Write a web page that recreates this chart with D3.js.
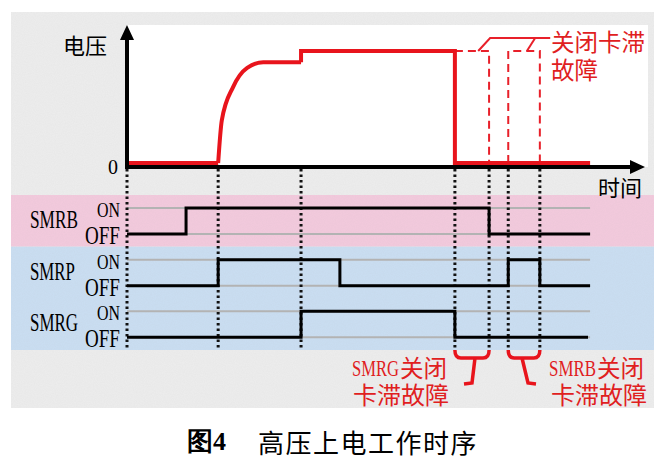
<!DOCTYPE html>
<html><head><meta charset="utf-8">
<script src="https://cdn.jsdelivr.net/npm/d3@7"></script>
<style>body{margin:0;background:#fff}</style></head>
<body><svg id="c" width="666" height="464"></svg>
<script>
// ---- data (time in arbitrary units 0..100, voltage normalised 0..1) ----
const timeDomain = [0, 100];
const voltageLow = [[0, 0], [17.6, 0]];
const voltageRise = [[17.6, 0], [18.3, 0.38], [20.5, 0.68], [23.2, 0.85], [26.3, 0.9], [33.6, 0.9]];
const voltageHold = [[33.6, 0.9], [33.6, 1], [63.3, 1], [63.3, 0], [89.4, 0]];
const faultRelayB = [[63.3, 1], [69.9, 1], [69.9, 0]];
const faultRelayP = [[73.6, 0], [73.6, 1], [79.7, 1], [79.7, 0]];
const eventTimes = [0, 17.6, 33.6, 63.3, 69.9, 73.6, 79.7];
const signalNames = ["SMRB", "SMRP", "SMRG"];
const smrbStates = [[0, 0], [11.4, 1], [69.9, 0], [89.4, 0]];
const smrpStates = [[0, 0], [17.6, 1], [41.1, 0], [73.6, 1], [79.7, 0], [89.4, 0]];
const smrgStates = [[0, 0], [33.6, 1], [63.3, 0], [89.0, 0]];
const stateLabels = ["ON", "OFF"];
const endTime = 89.4;

const svg = d3.select("#c");
const x = d3.scaleLinear().domain(timeDomain).range([127, 645]);
const v = d3.scaleLinear().domain([0, 1]).range([163, 51]);
const row = d3.scaleBand().domain(signalNames).range([195, 350]);
const stateY = (name, s) => row(name) + (s ? 13 : 39);

// texture filter
const defs = svg.append("defs");
const f = defs.append("filter").attr("id", "noise").attr("x", 0).attr("y", 0).attr("width", 1).attr("height", 1);
f.append("feTurbulence").attr("type", "fractalNoise").attr("baseFrequency", 0.9).attr("numOctaves", 2).attr("seed", 3);
f.append("feColorMatrix").attr("type", "matrix")
  .attr("values", "0 0 0 0 0.5  0 0 0 0 0.5  0 0 0 0 0.5  0 0 0 0.3 -0.08");

// panel
svg.append("rect").attr("x", 11).attr("y", 12).attr("width", 643).attr("height", 396).attr("fill", "#ececec");
svg.append("rect").attr("x", 11).attr("y", row("SMRB")).attr("width", 643).attr("height", row.bandwidth()).attr("fill", "#f2c9dc");
svg.append("rect").attr("x", 11).attr("y", row("SMRP")).attr("width", 643).attr("height", row.bandwidth() * 2).attr("fill", "#c9ddf1");
svg.append("rect").attr("x", 11).attr("y", 12).attr("width", 643).attr("height", 396).attr("filter", "url(#noise)").attr("opacity", 0.45);
svg.append("rect").attr("x", x(0)).attr("y", 25).attr("width", x(100) - x(0) + 3).attr("height", 142).attr("fill", "#fff");

// reference gray lines
signalNames.forEach(n => {
  [1, 0].forEach(s => {
    svg.append("line").attr("x1", x(0)).attr("x2", x(endTime)).attr("y1", stateY(n, s)).attr("y2", stateY(n, s))
      .attr("stroke", "#b3b3b3").attr("stroke-width", 2);
  });
});

// dotted event lines
svg.selectAll(".ev").data(eventTimes).enter().append("line")
  .attr("x1", d => x(d)).attr("x2", d => x(d)).attr("y1", 169).attr("y2", 350)
  .attr("stroke", "#111").attr("stroke-width", 3).attr("stroke-dasharray", "2.5,3");

// fault dashed lines in voltage panel
const dashLine = d3.line().x(d => x(d[0])).y(d => v(d[1]));
[faultRelayB, faultRelayP].forEach(p => {
  svg.append("path").attr("d", dashLine(p)).attr("fill", "none").attr("stroke", "#e8202a")
    .attr("stroke-width", 2).attr("stroke-dasharray", "8,5");
});
// callout lines
const calloutY = 1.116;
svg.append("path").attr("d", dashLine([[67.8, 1], [70.1, calloutY], [81.7, calloutY]]))
  .attr("fill", "none").attr("stroke", "#e8202a").attr("stroke-width", 2);
svg.append("path").attr("d", dashLine([[77.2, 1], [78.8, calloutY]]))
  .attr("fill", "none").attr("stroke", "#e8202a").attr("stroke-width", 2);

// voltage
svg.append("path").attr("d", d3.line().x(d => x(d[0])).y(d => v(d[1]))(voltageLow))
  .attr("fill", "none").attr("stroke", "#e8141c").attr("stroke-width", 4);
svg.append("path").attr("d", d3.line().x(d => x(d[0])).y(d => v(d[1])).curve(d3.curveMonotoneX)(voltageRise))
  .attr("fill", "none").attr("stroke", "#e8141c").attr("stroke-width", 4);
svg.append("path").attr("d", d3.line().x(d => x(d[0])).y(d => v(d[1]))(voltageHold))
  .attr("fill", "none").attr("stroke", "#e8141c").attr("stroke-width", 4);

// axes
svg.append("line").attr("x1", x(0)).attr("x2", x(100) - 10).attr("y1", 167).attr("y2", 167).attr("stroke", "#000").attr("stroke-width", 4);
svg.append("line").attr("x1", x(0)).attr("x2", x(0)).attr("y1", 169).attr("y2", 36).attr("stroke", "#000").attr("stroke-width", 4);
svg.append("path").attr("d", `M${x(100)},167 L${x(100) - 15},160 L${x(100) - 15},174 Z`).attr("fill", "#000");
svg.append("path").attr("d", `M${x(0)},25 L${x(0) - 7},40 L${x(0) + 7},40 Z`).attr("fill", "#000");

// signals
const stepLine = n => d3.line().x(d => x(d[0])).y(d => stateY(n, d[1])).curve(d3.curveStepAfter);
[["SMRB", smrbStates], ["SMRP", smrpStates], ["SMRG", smrgStates]].forEach(([n, data]) => {
  svg.append("path").attr("d", stepLine(n)(data)).attr("fill", "none").attr("stroke", "#000").attr("stroke-width", 3);
});

// text helpers
const serif = "'Liberation Serif','Times New Roman',serif";
const cjk = "'Noto Sans CJK SC','Noto Sans CJK JP',sans-serif";
const txt = (t, px, py, o) => {
  const e = svg.append("text").attr("x", px).attr("y", py).text(t)
    .attr("font-family", o.ff || serif).attr("font-size", o.fs).attr("fill", o.fill || "#000");
  if (o.anchor) e.attr("text-anchor", o.anchor);
  if (o.db) e.attr("dominant-baseline", o.db);
  if (o.fw) e.attr("font-weight", o.fw);
  if (o.ls) e.attr("letter-spacing", o.ls);
  return e;
};
// condensed serif text: fits width w with cap height of font size fs
const condensed = (t, px, py, w, fs, fill) => {
  const e = svg.append("text").text(t).attr("font-family", serif).attr("font-size", fs).attr("fill", fill || "#000");
  const nat = e.node().getComputedTextLength();
  const fs2 = fs * w / nat;
  e.attr("font-size", fs2).attr("transform", `translate(${px},${py}) scale(1,${fs / fs2})`);
  return e;
};
signalNames.forEach(n => {
  const top = row(n);
  condensed(n, 30, top + 33, n === "SMRP" ? 45 : 48, 25);
  condensed(stateLabels[0], 97, top + 22, 23, 21);
  condensed(stateLabels[1], 85, top + 49, 35, 25);
});
txt("0", 108, 174, { fs: 20 });
txt("电压", 63, 44, { ff: cjk, fs: 22, db: "central" });
txt("时间", 598, 186, { ff: cjk, fs: 22, db: "central" });
const red = "#e0201e";
txt("关闭卡滞", 551, 41, { ff: cjk, fs: 23.5, db: "central", fill: red });
txt("故障", 551, 69, { ff: cjk, fs: 23.5, db: "central", fill: red });
condensed("SMRG", 352, 376, 47, 24, red);
txt("关闭", 400, 367, { ff: cjk, fs: 23.5, db: "central", fill: red });
txt("卡滞故障", 353, 393, { ff: cjk, fs: 24, db: "central", fill: red });
condensed("SMRB", 549, 376, 47, 24, red);
txt("关闭", 597, 367, { ff: cjk, fs: 23.5, db: "central", fill: red });
txt("卡滞故障", 551, 393, { ff: cjk, fs: 24, db: "central", fill: red });

// braces
const brace = (t0, t1, stem, foot) => {
  const a = x(t0), b = x(t1);
  return `M${a},350 Q${a},358 ${a + 6},358 L${b - 6},358 Q${b},358 ${b},350 M${stem[0]},358 L${stem[1]},383 L${foot},384`;
};
svg.append("path").attr("d", brace(63.3, 69.9, [475, 472], 464)).attr("fill", "none").attr("stroke", "#e8141c").attr("stroke-width", 3.5);
svg.append("path").attr("d", brace(73.6, 79.7, [522, 528], 536)).attr("fill", "none").attr("stroke", "#e8141c").attr("stroke-width", 3.5);

// caption
txt("图4", 187, 441, { ff: serif, fs: 26, fw: "bold", db: "central" });
txt("高压上电工作时序", 258, 441, { ff: cjk, fs: 26, db: "central", ls: 1.5 });
</script></body></html>
